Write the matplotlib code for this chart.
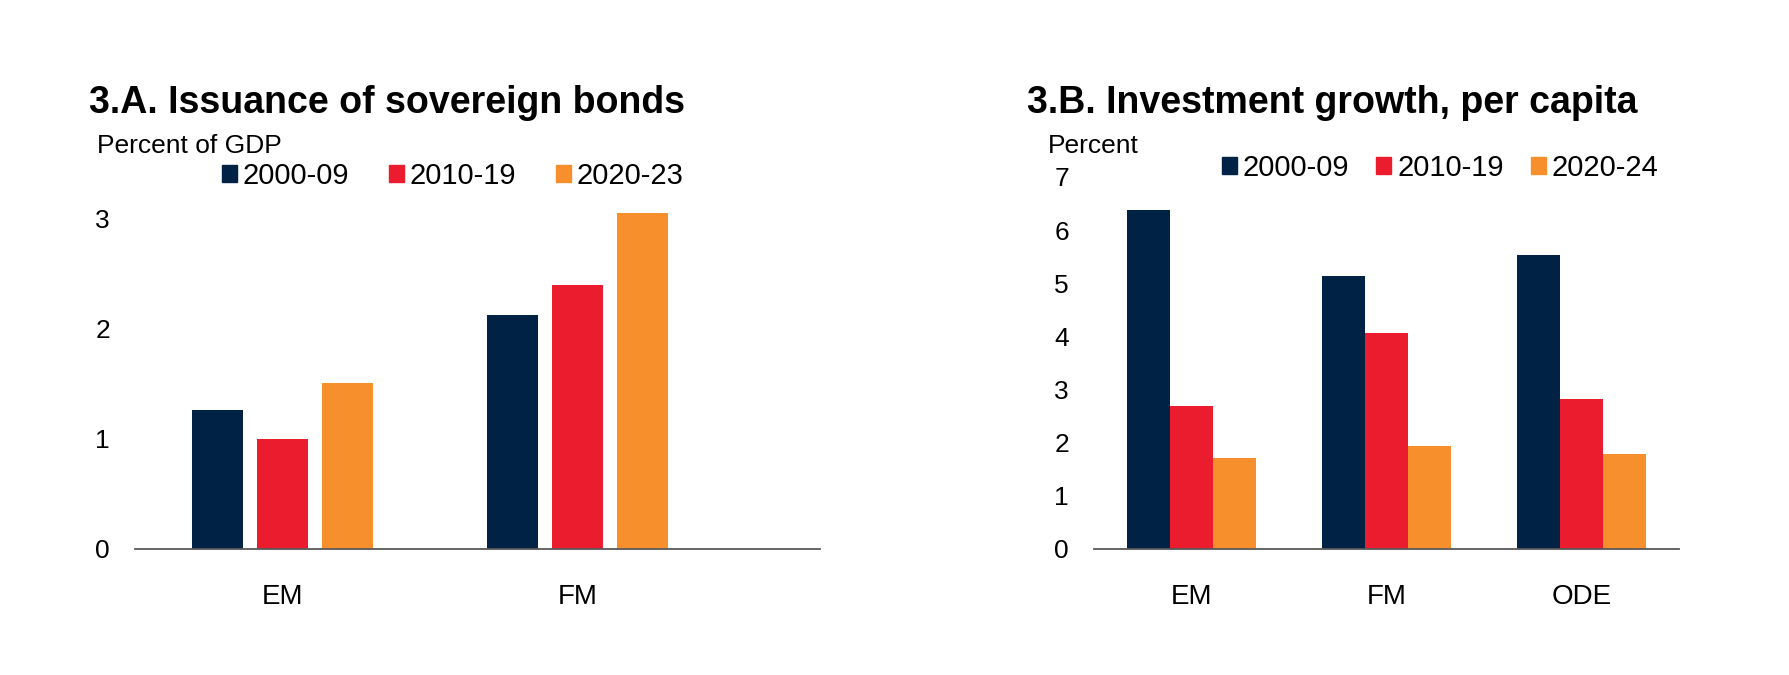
import matplotlib.pyplot as plt
from matplotlib.patches import Patch
import numpy as np

plt.rcParams['font.family'] = ['Liberation Sans', 'DejaVu Sans']

# 3.A data
groups_a = ['EM', 'FM']
a_2000_09 = [1.26, 2.13]
a_2010_19 = [1.00, 2.40]
a_2020_23 = [1.51, 3.05]
labels_a = ['2000-09', '2010-19', '2020-23']

# 3.B data
groups_b = ['EM', 'FM', 'ODE']
b_2000_09 = [6.37, 5.14, 5.53]
b_2010_19 = [2.70, 4.07, 2.82]
b_2020_24 = [1.71, 1.94, 1.78]
labels_b = ['2000-09', '2010-19', '2020-24']

colors = ['#002345', '#EB1C2D', '#F78F2C']

W, H = 1790, 675
fig = plt.figure(figsize=(W / 100, H / 100), dpi=100)

ax1 = fig.add_axes([135 / W, 1 - 549 / H, 685 / W, 372 / H])
ax2 = fig.add_axes([1094 / W, 1 - 549 / H, 585 / W, 372 / H])


def style(ax):
    for s in ['top', 'right', 'left']:
        ax.spines[s].set_visible(False)
    ax.spines['bottom'].set_color('#595959')
    ax.spines['bottom'].set_linewidth(1.3)
    ax.tick_params(axis='y', length=0, pad=18, labelsize=19)
    ax.tick_params(axis='x', length=0, pad=25, labelsize=20)


# panel A
x = np.arange(len(groups_a))
for i, (vals, c) in enumerate(zip([a_2000_09, a_2010_19, a_2020_23], colors)):
    ax1.bar(x + (i - 1) * 0.22, vals, width=0.173, color=c)
ax1.set_xticks(x, groups_a)
ax1.set_xlim(-0.5, 1.822)
ax1.set_ylim(0, 3.38)
ax1.set_yticks([0, 1, 2, 3])
style(ax1)

# panel B
x = np.arange(len(groups_b))
for i, (vals, c) in enumerate(zip([b_2000_09, b_2010_19, b_2020_24], colors)):
    ax2.bar(x + (i - 1) * 0.222, vals, width=0.222, color=c)
ax2.set_xticks(x, groups_b)
ax2.set_xlim(-0.5, 2.5)
ax2.set_ylim(0, 7)
ax2.set_yticks(range(8))
style(ax2)

# titles and units
fig.text(89 / W, 1 - 103 / H, '3.A. Issuance of sovereign bonds', fontsize=27,
         fontweight='bold', va='center', ha='left')
fig.text(1027 / W, 1 - 103 / H, '3.B. Investment growth, per capita', fontsize=27,
         fontweight='bold', va='center', ha='left')
fig.text(97 / W, 1 - 146 / H, 'Percent of GDP', fontsize=19, va='center', ha='left')
fig.text(1048 / W, 1 - 146 / H, 'Percent', fontsize=19, va='center', ha='left')

# legends
handles_a = [Patch(color=c, label=l) for c, l in zip(colors, labels_a)]
handles_b = [Patch(color=c, label=l) for c, l in zip(colors, labels_b)]
leg_kw = dict(ncol=3, frameon=False, fontsize=21, handlelength=0.52, handleheight=0.52,
              handletextpad=0.2, borderpad=0, borderaxespad=0, loc='center left')
fig.legend(handles=handles_a, bbox_to_anchor=(222 / W, 1 - 176 / H),
           columnspacing=1.35, **leg_kw)
fig.legend(handles=handles_b, bbox_to_anchor=(1222 / W, 1 - 168 / H),
           columnspacing=0.92, **leg_kw)

fig.savefig('out.png', dpi=100)
